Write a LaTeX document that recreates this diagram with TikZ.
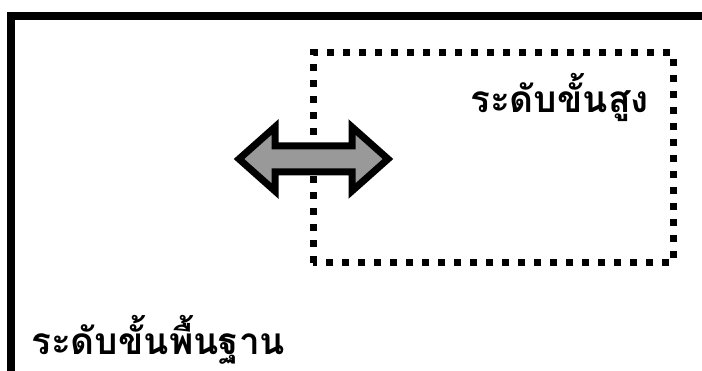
\documentclass[tikz,border=0pt]{standalone}
\usepackage{fontspec}
\newfontfamily\thaifont[Script=Thai]{Loma}
\begin{document}
\begin{tikzpicture}[x=1pt,y=-1pt,
  frame/.style={draw=black,line width=8pt},
  dotbox/.style={draw=black,line width=7pt,dash pattern=on 7pt off 9pt},
  dblarrow/.style={draw=black,line width=7pt,line join=miter,fill=black!40},
  label/.style={font=\thaifont\bfseries\fontsize{37}{42}\selectfont,inner sep=0pt,anchor=base west}]
\useasboundingbox (0,0) rectangle (702,371);
\clip (0,0) rectangle (702,371);
\fill[white] (0,0) rectangle (702,371);
\draw[frame] (10.5,16) rectangle (730,420);
\draw[dotbox] (313,263) -- (313,53) -- (673,53) -- (673,263) -- cycle;
\draw[dblarrow] (239,159) -- (275,127) -- (275,146) -- (352,146) -- (352,127) -- (388,159) -- (352,191) -- (352,172) -- (275,172) -- (275,191) -- cycle;
\node[label] (hi) at (470,113) {ระดับขั้นสูง};
\node[label] (lo) at (31,355) {ระดับขั้นพื้นฐาน};
\end{tikzpicture}
\end{document}
